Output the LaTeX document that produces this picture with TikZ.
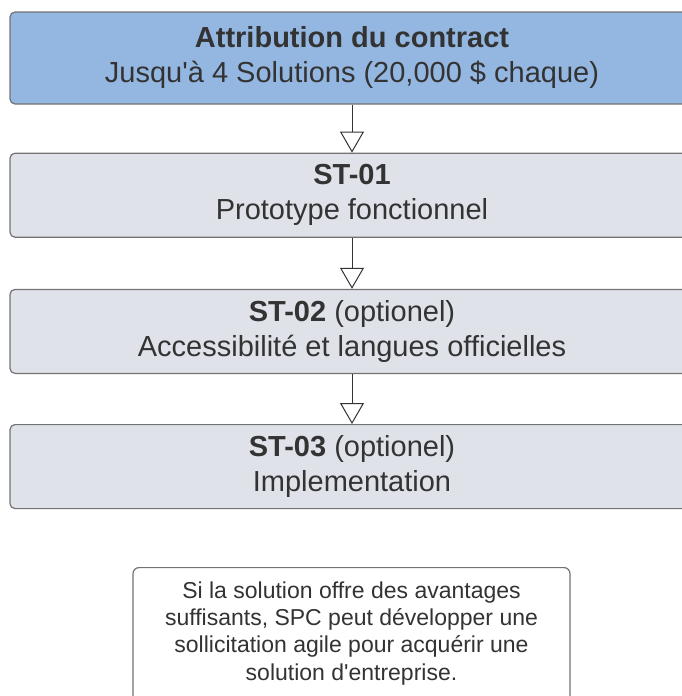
\documentclass[tikz,border=0pt]{standalone}
\usepackage{fontspec}
\setmainfont{Liberation Sans}
\usetikzlibrary{arrows.meta,positioning}
\definecolor{awardblue}{RGB}{148,183,226}
\definecolor{phasegray}{RGB}{223,226,232}
\definecolor{edgegray}{RGB}{115,115,115}
\definecolor{inkgray}{RGB}{51,51,51}
\begin{document}
\begin{tikzpicture}[
                x=1pt, y=-1pt,
                node distance=52pt,
                phase/.style={draw=edgegray, line width=1.2pt, rounded corners=5pt,
                    fill=phasegray, minimum width=684pt, minimum height=84pt,
                    align=center, text=inkgray, font=\fontsize{29}{35}\selectfont},
                award/.style={phase, fill=awardblue, minimum height=92pt},
                note/.style={draw=edgegray, line width=1.2pt, rounded corners=6pt,
                    fill=white, minimum width=437pt, inner ysep=14pt,
                    text depth=110pt, align=center, text=inkgray,
                    font=\fontsize{23}{27.3}\selectfont},
                flow/.style={draw=inkgray, line width=0.9pt,
                    -{Triangle[open, length=21pt, width=24pt, line width=1pt, fill=white]}}
            ]
            \path[use as bounding box, clip] (0,0) rectangle (682,696);
            \node[award] (award) at (352,58)
                {\textbf{Attribution du contract}\\Jusqu\textquotesingle à 4 Solutions (20,000 \$ chaque)};
            \node[phase, below=48pt of award] (st1)
                {\textbf{ST-01}\\Prototype fonctionnel};
            \node[phase, below=51pt of st1] (st2)
                {\textbf{ST-02} (optionel)\\Accessibilité et langues officielles};
            \node[phase, below=50pt of st2] (st3)
                {\textbf{ST-03} (optionel)\\Implementation};
            \node[note, anchor=north] (note) at (351.5,567)
                {Si la solution offre des avantages\\suffisants, SPC peut développer une\\sollicitation agile pour acquérir une\\solution d\textquotesingle entreprise.};
            \draw[flow] (award) -- (st1);
            \draw[flow] (st1) -- (st2);
            \draw[flow] (st2) -- (st3);
        \end{tikzpicture}
\end{document}
